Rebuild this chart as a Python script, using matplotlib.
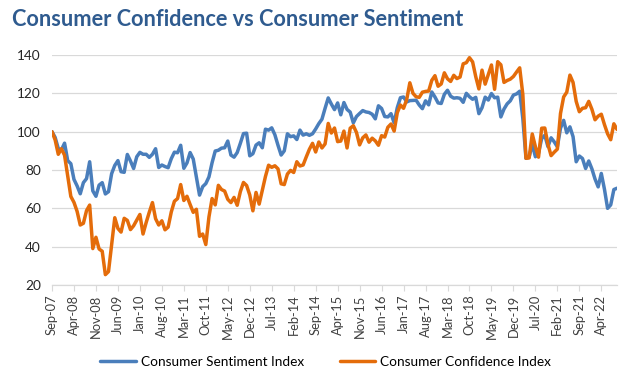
import matplotlib
matplotlib.use('Agg')
import matplotlib.pyplot as plt
import numpy as np
import pandas as pd

# Indexes rebased to Sep-07 = 100, monthly Sep-07 .. Sep-22
sentiment = [
    100.0, 97.0, 91.2, 90.5,
    94.0, 84.9, 83.3, 75.1, 71.7, 67.6, 73.4, 75.5, 84.3, 69.1, 66.3, 72.1,
    73.4, 67.5, 68.7, 78.1, 82.4, 84.9, 79.1, 78.8, 88.1, 84.7, 80.8, 86.9,
    89.2, 88.2, 88.2, 86.6, 88.2, 91.1, 81.3, 82.6, 81.8, 81.2, 85.9, 89.3,
    89.0, 92.9, 80.9, 83.7, 89.1, 85.7, 76.4, 66.9, 71.3, 72.9, 76.4, 83.8,
    89.9, 90.3, 91.4, 91.6, 95.1, 87.8, 86.7, 89.1, 93.9, 99.0, 99.2, 87.4,
    88.5, 93.0, 94.2, 91.6, 101.3, 100.8, 102.0, 98.4, 92.9, 87.8, 90.0, 98.9,
    97.4, 97.8, 95.9, 100.8, 98.2, 98.9, 98.1, 98.9, 101.4, 104.2, 106.5, 112.2,
    117.6, 114.4, 111.5, 115.0, 108.8, 115.2, 111.6, 110.2, 104.6, 107.9, 109.5, 111.0,
    110.3, 110.0, 109.1, 106.7, 113.5, 112.1, 107.9, 107.7, 109.4, 104.6, 112.5, 117.7,
    118.1, 115.5, 116.2, 116.3, 116.4, 113.9, 112.0, 116.1, 114.0, 120.7, 118.1, 115.0,
    114.7, 119.5, 121.6, 118.5, 117.5, 117.7, 117.4, 115.3, 120.0, 118.2, 116.9, 117.9,
    109.4, 112.5, 118.0, 116.5, 119.9, 117.7, 118.0, 107.7, 111.8, 114.5, 116.1, 119.1,
    119.7, 121.1, 106.8, 86.1, 86.7, 93.6, 86.9, 88.8, 96.4, 98.1, 92.2, 96.8,
    94.7, 92.1, 101.8, 105.9, 99.4, 102.5, 97.4, 84.3, 87.3, 86.0, 80.8, 84.7,
    80.6, 75.3, 71.2, 78.2, 70.0, 60.0, 61.8, 69.8, 70.5,
]

confidence = [
    100.0, 95.7, 88.2, 91.1,
    87.7, 76.8, 66.2, 63.1, 58.4, 51.3, 52.2, 58.8, 61.7, 39.0, 44.9, 38.8,
    37.6, 25.4, 27.0, 41.0, 55.1, 49.5, 47.6, 54.8, 53.7, 48.9, 50.9, 53.9,
    56.8, 46.6, 52.6, 58.0, 63.0, 54.6, 51.3, 53.5, 48.8, 50.2, 58.1, 63.7,
    65.1, 72.4, 64.1, 66.3, 62.0, 57.9, 59.5, 45.4, 46.6, 41.1, 55.5, 65.1,
    61.8, 72.0, 69.8, 69.0, 64.7, 63.0, 65.7, 61.6, 68.7, 73.5, 71.9, 67.0,
    58.7, 68.3, 62.2, 69.3, 76.6, 82.5, 81.4, 82.2, 80.6, 72.8, 72.4, 77.9,
    79.8, 78.7, 84.3, 82.1, 82.6, 86.8, 90.8, 93.9, 89.4, 94.6, 91.5, 93.6,
    104.3, 99.3, 101.9, 94.8, 95.1, 100.3, 91.5, 101.8, 103.1, 99.6, 93.1, 96.8,
    98.3, 94.5, 96.6, 95.2, 92.9, 97.9, 97.2, 102.3, 104.0, 100.3, 109.9, 113.9,
    112.2, 116.7, 125.5, 120.0, 118.2, 117.9, 120.6, 121.0, 121.2, 126.8, 129.2, 123.7,
    124.9, 130.7, 127.6, 126.2, 129.4, 127.7, 128.5, 135.4, 136.0, 138.6, 136.4, 128.7,
    122.3, 132.1, 124.8, 129.8, 134.8, 122.1, 136.5, 134.9, 125.7, 126.7, 127.4, 128.8,
    131.1, 133.3, 119.4, 86.1, 86.3, 98.8, 92.2, 86.7, 101.8, 101.9, 93.4, 87.5,
    89.3, 90.9, 109.5, 118.1, 120.6, 129.5, 125.7, 115.8, 110.4, 112.2, 112.5, 115.8,
    111.7, 106.2, 108.1, 109.1, 103.7, 98.9, 95.8, 104.1, 101.2,
]

months = pd.date_range('2007-09-01', periods=len(sentiment), freq='MS')
tick_step = 7

BLUE = '#4a7ebb'
ORANGE = '#e46c0a'
GRID = '#d9d9d9'

fig = plt.figure(figsize=(6.35, 3.89), dpi=100)
fig.patch.set_facecolor('white')
ax = fig.add_axes([52 / 635, 1 - 285 / 389, 565 / 635, 230 / 389])

x = np.arange(len(months))
ax.plot(x, sentiment, color=BLUE, lw=2.5, label='Consumer Sentiment Index',
        solid_joinstyle='round', solid_capstyle='round')
ax.plot(x, confidence, color=ORANGE, lw=2.5, label='Consumer Confidence Index',
        solid_joinstyle='round', solid_capstyle='round')

ax.set_xlim(0, len(months) - 1)
ax.set_ylim(20, 140)
ax.set_yticks(np.arange(20, 141, 20))
ax.yaxis.grid(True, color=GRID, lw=0.9)
ax.set_axisbelow(True)

ticks = x[::tick_step]
ax.set_xticks(ticks)
ax.set_xticklabels(months[::tick_step].strftime('%b-%y'), rotation=90,
                   fontsize=9.3, color='#404040', family='Lato')
ax.tick_params(axis='x', length=4, color=GRID, pad=3)
ax.tick_params(axis='y', length=0, labelsize=9.8, labelcolor='#262626', pad=8)
for lbl in ax.get_yticklabels():
    lbl.set_family('Lato')

for s in ['top', 'right', 'left']:
    ax.spines[s].set_visible(False)
ax.spines['bottom'].set_color(GRID)
ax.spines['bottom'].set_linewidth(0.9)

fig.text(12 / 635, 1 - 20 / 389, 'Consumer Confidence vs Consumer Sentiment',
         fontsize=15.7, fontweight='bold', color='#2f5b8f', family='Lato',
         ha='left', va='center')

fig.legend(loc='center', bbox_to_anchor=(0.513, 1 - 362 / 389), ncol=2,
           frameon=False, prop={'family': 'Lato', 'size': 9.8},
           handlelength=2.6, columnspacing=2.6, handletextpad=0.4)

fig.savefig('out.png', dpi=100, facecolor='white')
